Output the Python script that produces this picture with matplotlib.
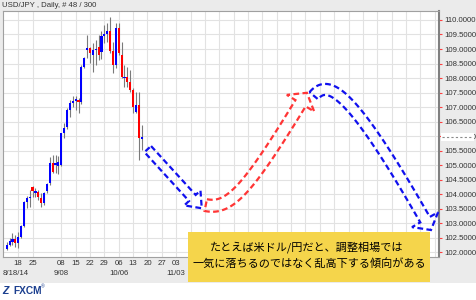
import numpy as np
import matplotlib
matplotlib.use('Agg')
import matplotlib.pyplot as plt
from matplotlib.patches import Rectangle, Polygon
from matplotlib.lines import Line2D
from matplotlib.transforms import IdentityTransform, blended_transform_factory
from matplotlib.ticker import FormatStrFormatter

plt.rcParams['font.family'] = ['Liberation Sans', 'DejaVu Sans']

W, H = 477, 300

# daily USD/JPY candles, 48 bars (8/12/14 .. 10/16/14)
opens = [102.12, 102.24, 102.36, 102.45, 102.31, 102.52, 102.90, 103.72, 103.85, 104.24,
         104.03, 104.07, 103.88, 103.69, 104.10, 104.38, 105.07, 105.00, 104.95, 105.00,
         106.10, 106.31, 106.90, 107.15, 107.20, 107.24, 107.17, 108.38, 108.98, 109.03,
         108.80, 108.95, 109.07, 108.90, 109.45, 109.50, 109.62, 108.93, 108.45, 109.72,
         108.80, 108.00, 108.03, 107.86, 107.59, 106.83, 107.07, 105.90]
highs = [102.34, 102.48, 102.66, 102.60, 102.70, 102.93, 103.75, 103.93, 104.14, 104.28,
         104.20, 104.14, 104.03, 104.07, 104.38, 105.28, 105.34, 105.34, 105.30, 106.12,
         106.45, 106.95, 107.24, 107.38, 107.38, 107.30, 108.45, 108.72, 109.48, 109.07,
         109.20, 109.31, 109.48, 109.62, 109.83, 109.90, 110.10, 109.24, 109.90, 109.90,
         109.24, 108.45, 108.38, 108.28, 107.66, 107.52, 107.52, 106.38]
lows = [102.07, 102.20, 102.24, 102.18, 102.15, 102.48, 102.88, 103.52, 103.55, 103.90,
        103.90, 103.80, 103.55, 103.62, 104.03, 104.31, 104.72, 104.72, 104.70, 104.95,
        105.93, 106.25, 106.65, 107.00, 106.90, 106.80, 107.10, 108.34, 108.69, 108.52,
        108.20, 108.45, 108.62, 108.65, 109.20, 109.25, 108.86, 108.17, 108.35, 108.80,
        108.00, 107.69, 107.69, 107.52, 106.80, 106.80, 105.17, 105.52]
closes = [102.24, 102.38, 102.44, 102.31, 102.52, 102.90, 103.72, 103.86, 103.90, 104.12,
          104.10, 103.90, 103.69, 104.03, 104.34, 105.07, 104.76, 105.07, 105.10, 106.10,
          106.28, 106.90, 107.14, 107.20, 107.28, 107.17, 108.38, 108.69, 109.03, 108.86,
          108.97, 108.98, 108.80, 109.45, 109.52, 109.62, 108.93, 108.45, 109.72, 108.86,
          108.05, 108.05, 107.86, 107.59, 107.00, 107.07, 105.93, 105.98]

# weekly ticks (bar index of each monday), 9/01 has no label on the chart
tick_idx = [4, 9] + list(range(19, 150, 5))
day_labels = ['18', '25', '08', '15', '22', '29', '06', '13', '20', '27', '03']
month_idx = [4, 19, 39, 59]
month_labels = ['8/18/14', '9/08', '10/06', '11/03']

# hand drawn arrows (bar index, price): tail -> tip
drop_x = [49.1, 67.9]
drop_y = [105.55, 103.51]
rise_x = [69.3, 77.8, 84.0, 104.5]
rise_y = [103.62, 103.45, 104.14, 107.49]
fall_x = [106.9, 112.6, 121.6, 147.7]
fall_y = [107.39, 108.07, 107.31, 102.76]

note_lines = ['たとえば米ドル/円だと、調整相場では',
              '一気に落ちるのではなく乱高下する傾向がある']


def fx(x):
    return x / W


def fy(y):
    return 1 - y / H


def bezier(P, n=300):
    t = np.linspace(0, 1, n)[:, None]
    if len(P) == 2:
        return P[0] * (1 - t) + P[1] * t
    return ((1 - t) ** 3 * P[0] + 3 * (1 - t) ** 2 * t * P[1]
            + 3 * (1 - t) * t ** 2 * P[2] + t ** 3 * P[3])


def block_arrow(ax, xs, ys, shaft, head_w, head_len, color):
    P = ax.transData.transform(np.column_stack([xs, ys]))
    C = bezier(P)
    s = np.concatenate([[0], np.cumsum(np.hypot(*np.diff(C, axis=0).T))])
    k = np.searchsorted(s, s[-1] - head_len)
    body = C[:k + 1]
    tang = np.gradient(body, axis=0)
    tang /= np.hypot(tang[:, 0], tang[:, 1])[:, None]
    nrm = np.column_stack([-tang[:, 1], tang[:, 0]])
    left = body + nrm * shaft / 2
    right = body - nrm * shaft / 2
    base, tip = body[-1], C[-1]
    d = (tip - base) / np.hypot(*(tip - base))
    nb = np.array([-d[1], d[0]])
    poly = np.vstack([left, base + nb * head_w / 2, tip,
                      base - nb * head_w / 2, right[::-1]])
    ax.add_patch(Polygon(poly, closed=True, fill=False, edgecolor=color,
                         lw=1.6, linestyle=(0, (2.6, 1.5)), joinstyle='miter',
                         transform=IdentityTransform(), zorder=4))


fig = plt.figure(figsize=(W / 100, H / 100), dpi=100)
fig.patch.set_facecolor('white')
fig.add_artist(Rectangle((0, fy(283)), 1, 283 / H, transform=fig.transFigure,
                         facecolor='#ebebeb', edgecolor='none', zorder=-1))

ax = fig.add_axes([fx(3), fy(257), 436 / W, 246 / H])
ax.set_facecolor('white')
ax.set_xlim(-1.29, 150.5)
ax.set_ylim(101.83, 110.31)

idx = np.arange(len(opens))
o, c = np.array(opens), np.array(closes)
colors = np.where(c >= o, '#0000ff', '#ff0000')
height = np.where(np.abs(c - o) < 0.035, 0.035, c - o)
ax.vlines(idx, lows, highs, colors='#7a7a7a', lw=0.8, zorder=2)
ax.bar(idx, height, bottom=o, width=0.75, color=colors, linewidth=0, zorder=3)

ax.set_axisbelow(True)
ax.set_xticks(tick_idx)
ax.set_xticklabels(day_labels + [''] * (len(tick_idx) - len(day_labels)))
ax.set_yticks(np.arange(102, 110.01, 0.5))
ax.yaxis.set_major_formatter(FormatStrFormatter('%.4f'))
ax.yaxis.tick_right()
ax.tick_params(axis='y', colors='#ff4040', length=2.5, width=0.8, pad=1,
               labelsize=5.6, labelcolor='#333333')
ax.tick_params(axis='x', length=0, pad=2.2, labelsize=5.6, labelcolor='#333333')
ax.grid(True, color='#e2e2e2', lw=0.8)
for side in ['left', 'top', 'bottom']:
    ax.spines[side].set_color('#a0a0a0')
    ax.spines[side].set_linewidth(0.8)
ax.spines['right'].set_color('#808080')
ax.spines['right'].set_linewidth(1.5)

trans = blended_transform_factory(ax.transData, ax.transAxes)
for i, (mi, ml) in enumerate(zip(month_idx, month_labels)):
    if i == 0:
        ax.text(-1.29, -0.066, ml, transform=trans, ha='left', va='center',
                fontsize=5.6, color='#333333')
    else:
        ax.text(mi, -0.066, ml, transform=trans, ha='center', va='center',
                fontsize=5.6, color='#333333')

block_arrow(ax, drop_x, drop_y, 9, 22, 14, '#1010ee')
block_arrow(ax, rise_x, rise_y, 12, 32, 13, '#ff3535')
block_arrow(ax, fall_x, fall_y, 11, 30, 12, '#1010ee')

# title bar
fig.text(fx(2), fy(5.5), 'USD/JPY , Daily, # 48 / 300', fontsize=5.6,
         color='#333333', va='center', ha='left')

# current price marker on the price scale
fig.add_artist(Rectangle((fx(440.5), fy(141)), 33 / W, 8.5 / H,
                         transform=fig.transFigure, facecolor='white',
                         edgecolor='none', zorder=3))
fig.add_artist(Line2D([fx(442), fx(471)], [fy(136.5), fy(136.5)],
                      transform=fig.transFigure, color='#8a8a8a', lw=0.8,
                      linestyle=(0, (2, 2)), zorder=4))

# logo
fig.text(fx(2.5), fy(290.5), 'Z', fontsize=7.5, weight='bold', style='italic',
         color='#1b3f8f', va='center', ha='left')
fig.text(fx(13), fy(290.5), 'FXCM', fontsize=7.3, weight='bold',
         color='#1b3f8f', va='center', ha='left')
fig.text(fx(40.5), fy(287), '®', fontsize=3.5, color='#1b3f8f',
         va='center', ha='left')

# note box
fig.add_artist(Rectangle((fx(188), fy(282)), 242 / W, 50 / H,
                         transform=fig.transFigure, facecolor='#f5d54b',
                         edgecolor='none', zorder=5))
fig.text(fx(307), fy(247), note_lines[0], fontsize=8, ha='center', va='center',
         family=['Noto Sans CJK JP', 'DejaVu Sans'], color='black', zorder=6)
fig.text(fx(309), fy(263.5), note_lines[1], fontsize=8, ha='center', va='center',
         family=['Noto Sans CJK JP', 'DejaVu Sans'], color='black', zorder=6)

fig.savefig('out.png', dpi=100)
